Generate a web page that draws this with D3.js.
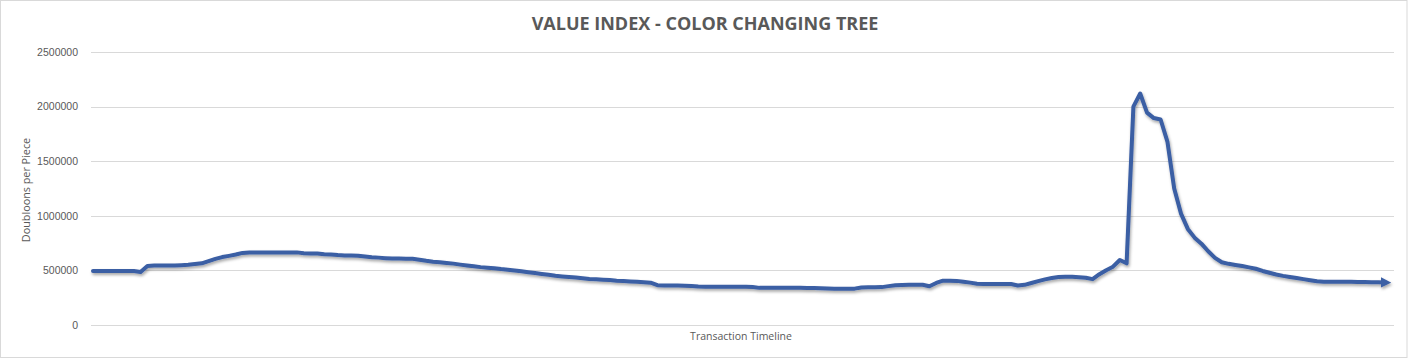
<!DOCTYPE html>
<html>
<head>
<meta charset="utf-8">
<script src="https://cdn.jsdelivr.net/npm/d3@7"></script>
<style>
  body { margin: 0; background: #fff; }
  svg { display: block; font-family: "Open Sans", "Liberation Sans", sans-serif; }
  .grid line { stroke: #d9d9d9; }
  .grid text { fill: #595959; font-size: 10.5px; }
</style>
</head>
<body>
<div id="chart"></div>
<script>
// values per transaction, in thousands of doubloons
const values = [
  495, 495, 495, 495, 495, 495, 495, 485, 540, 545,
  545, 545, 545, 548, 552, 558, 565, 585, 605, 622,
  633, 645, 660, 665, 665, 665, 665, 665, 665, 665,
  665, 658, 655, 655, 648, 645, 640, 637, 636, 634,
  627, 621, 617, 612, 608, 608, 607, 606, 598, 588,
  580, 575, 568, 562, 553, 545, 538, 530, 525, 520,
  512, 506, 500, 492, 484, 476, 468, 460, 451, 445,
  440, 434, 428, 422, 418, 415, 411, 406, 403, 399,
  396, 392, 388, 365, 362, 362, 361, 360, 358, 352,
  351, 351, 351, 351, 351, 351, 351, 348, 340, 340,
  340, 340, 340, 340, 340, 339, 338, 336, 334, 333,
  333, 332, 333, 344, 345, 345, 347, 356, 364, 367,
  368, 368, 368, 355, 385, 406, 406, 404, 397, 388,
  378, 375, 375, 375, 375, 375, 362, 368, 385, 402,
  418, 430, 440, 442, 441, 438, 433, 420, 465, 502,
  534, 595, 565, 2000, 2120, 1945, 1895, 1882, 1680, 1250,
  1020, 880, 800, 745, 675, 615, 575, 560, 550, 540,
  528, 515, 495, 478, 462, 450, 440, 430, 420, 410,
  400, 396, 395, 395, 395, 395, 394, 393, 392, 391,
  390
];
const unit = 1000;
const transactions = values.map((v, i) => i + 1);
const yTicks = [0, 500000, 1000000, 1500000, 2000000, 2500000];

const title = "VALUE INDEX - COLOR CHANGING TREE";
const xTitle = "Transaction Timeline";
const yTitle = "Doubloons per Piece";

const W = 1408, H = 359;
const plot = { left: 91, right: 1394, top: 52, bottom: 325 };

const svg = d3.select("#chart").append("svg")
    .attr("width", W)
    .attr("height", H);

// chart border
svg.append("rect")
    .attr("x", 0.5).attr("y", 0.5)
    .attr("width", W - 1.5).attr("height", H - 2)
    .attr("fill", "#fff")
    .attr("stroke", "#d9d9d9");

const x = d3.scalePoint()
    .domain(transactions)
    .range([93, 1385]);

const y = d3.scaleLinear()
    .domain([0, 2500000])
    .range([plot.bottom, plot.top]);

// gridlines + tick labels
svg.append("g")
    .attr("class", "grid")
    .attr("transform", "translate(" + plot.left + ",0)")
    .call(d3.axisLeft(y)
        .tickValues(yTicks)
        .tickFormat(d3.format("d"))
        .tickSizeInner(-(plot.right - plot.left))
        .tickSizeOuter(0)
        .tickPadding(13))
    .call(g => g.select(".domain").remove())
    .call(g => g.selectAll("line").attr("shape-rendering", "crispEdges"));

// shadow + arrow
const defs = svg.append("defs");
const shadow = defs.append("filter")
    .attr("id", "shadow")
    .attr("x", "-5%").attr("y", "-20%")
    .attr("width", "110%").attr("height", "140%");
shadow.append("feDropShadow")
    .attr("dx", 1).attr("dy", 2)
    .attr("stdDeviation", 1.4)
    .attr("flood-color", "#000")
    .attr("flood-opacity", 0.35);

defs.append("marker")
    .attr("id", "arrow")
    .attr("viewBox", "0 0 10 10")
    .attr("refX", 4).attr("refY", 5)
    .attr("markerWidth", 2.6).attr("markerHeight", 2.6)
    .attr("orient", "auto")
  .append("path")
    .attr("d", "M0,0 L10,5 L0,10 Z")
    .attr("fill", "#3b5ea4");

const line = d3.line()
    .x((d, i) => x(transactions[i]))
    .y(d => y(d * unit))
    .curve(d3.curveLinear);

svg.append("path")
    .datum(values)
    .attr("fill", "none")
    .attr("stroke", "#3b5ea4")
    .attr("stroke-width", 4)
    .attr("stroke-linejoin", "round")
    .attr("stroke-linecap", "round")
    .attr("filter", "url(#shadow)")
    .attr("marker-end", "url(#arrow)")
    .attr("d", line);

// titles
svg.append("text")
    .attr("x", 705).attr("y", 30)
    .attr("text-anchor", "middle")
    .attr("fill", "#595959")
    .attr("font-size", "18px")
    .attr("font-weight", "bold")
    .text(title);

svg.append("text")
    .attr("x", 741).attr("y", 340)
    .attr("text-anchor", "middle")
    .attr("fill", "#595959")
    .attr("font-size", "10.5px")
    .text(xTitle);

svg.append("text")
    .attr("transform", "translate(30,190) rotate(-90)")
    .attr("text-anchor", "middle")
    .attr("fill", "#595959")
    .attr("font-size", "10.8px")
    .text(yTitle);
</script>
</body>
</html>
